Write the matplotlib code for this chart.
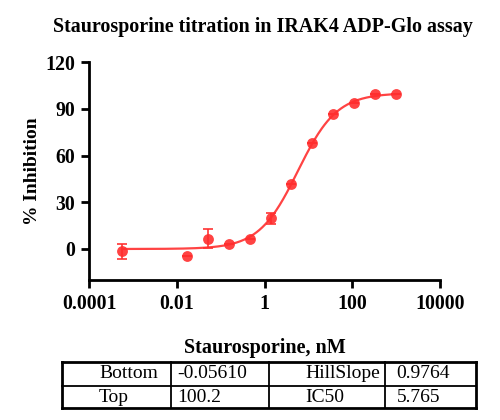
import matplotlib
matplotlib.use('Agg')
import matplotlib.pyplot as plt
import numpy as np

# concentrations (nM), mean % inhibition and SD
conc = [0.00056, 0.01694, 0.0508, 0.1524, 0.4572, 1.372, 4.115,
        12.35, 37.04, 111.1, 333.3, 1000.0]
inhib = [-1.5, -4.5, 6.6, 3.4, 6.6, 19.8, 41.6, 68.4, 87.0, 93.8, 99.3, 99.8]
sd = [4.8, 0.0, 6.0, 0.0, 0.0, 3.6, 0.0, 0.0, 0.0, 0.0, 0.0, 0.0]

# fitted 4PL parameters
fit_names = ['Bottom', 'Top', 'HillSlope', 'IC50']
fit_text = ['-0.05610', '100.2', '0.9764', '5.765']
bottom, top, hill, ic50 = -0.05610, 100.2, 0.9764, 5.765

red = '#ff2e2e'
plt.rcParams['font.family'] = ['Liberation Serif', 'DejaVu Serif']

fig = plt.figure(figsize=(5, 4.2), dpi=100)
ax = fig.add_axes([89 / 500, 1 - 280 / 420, 351 / 500, (280 - 62.3) / 420])

xs = np.logspace(np.log10(conc[0]), np.log10(conc[-1]), 300)
ys = bottom + (top - bottom) / (1 + (ic50 / xs) ** hill)
ax.plot(xs, ys, color=red, lw=1.6, alpha=0.9)
# error bars first (with caps), then the dots on top
ax.errorbar(conc, inhib, yerr=sd, fmt='none', ecolor=red, alpha=0.9,
            elinewidth=1.3, capsize=3.5, capthick=1.3)
ax.plot(conc, inhib, 'o', color=red, ms=7.8, alpha=0.9, mew=0)

ax.set_xscale('log')
ax.set_xlim(1e-4, 1e4)
ax.set_ylim(-20, 120)
ax.set_xticks([1e-4, 1e-2, 1, 1e2, 1e4])
ax.set_xticklabels(['0.0001', '0.01', '1', '100', '10000'])
ax.minorticks_off()
ax.set_yticks([0, 30, 60, 90, 120])
for s in ['top', 'right']:
    ax.spines[s].set_visible(False)
for s in ['left', 'bottom']:
    ax.spines[s].set_linewidth(2)
ax.tick_params(width=2, length=6, labelsize=14.3, pad=4)
for lab in ax.get_xticklabels() + ax.get_yticklabels():
    lab.set_fontweight('bold')

ax.set_ylabel('% Inhibition', fontsize=14, fontweight='bold', labelpad=3)
ax.set_xlabel('Staurosporine, nM', fontsize=14.5, fontweight='bold', labelpad=17)
fig.text(0.526, 1 - 27 / 420, 'Staurosporine titration in IRAK4 ADP-Glo assay',
         ha='center', va='center', fontsize=14.4, fontweight='bold')

# parameter table
cols = [62.3, 170.7, 269.3, 385, 475.7]
rows = [361.7, 385.7, 408.3]
tx = fig.add_axes([cols[0] / 500, 1 - rows[-1] / 420,
                   (cols[-1] - cols[0]) / 500, (rows[-1] - rows[0]) / 420])
tx.set_xlim(cols[0], cols[-1])
tx.set_ylim(rows[-1], rows[0])
tx.axis('off')
for i, r in enumerate(rows):
    outer = i in (0, len(rows) - 1)
    tx.plot([cols[0], cols[-1]], [r, r], color='black',
            lw=2.0 if outer else 1.3, clip_on=False, solid_capstyle='projecting')
for j, c in enumerate(cols):
    outer = j in (0, len(cols) - 1)
    tx.plot([c, c], [rows[0], rows[-1]], color='black',
            lw=2.0 if outer else 1.3, clip_on=False, solid_capstyle='projecting')
cells = [[fit_names[0], fit_text[0], fit_names[2], fit_text[2]],
         [fit_names[1], fit_text[1], fit_names[3], fit_text[3]]]
starts = [99, 177, 305, 396.7]
baselines = [378.3, 401.7]
for i, row in enumerate(cells):
    for j, t in enumerate(row):
        tx.text(starts[j], baselines[i], t, ha='left', va='baseline', fontsize=14)

fig.savefig('out.png', dpi=100)
